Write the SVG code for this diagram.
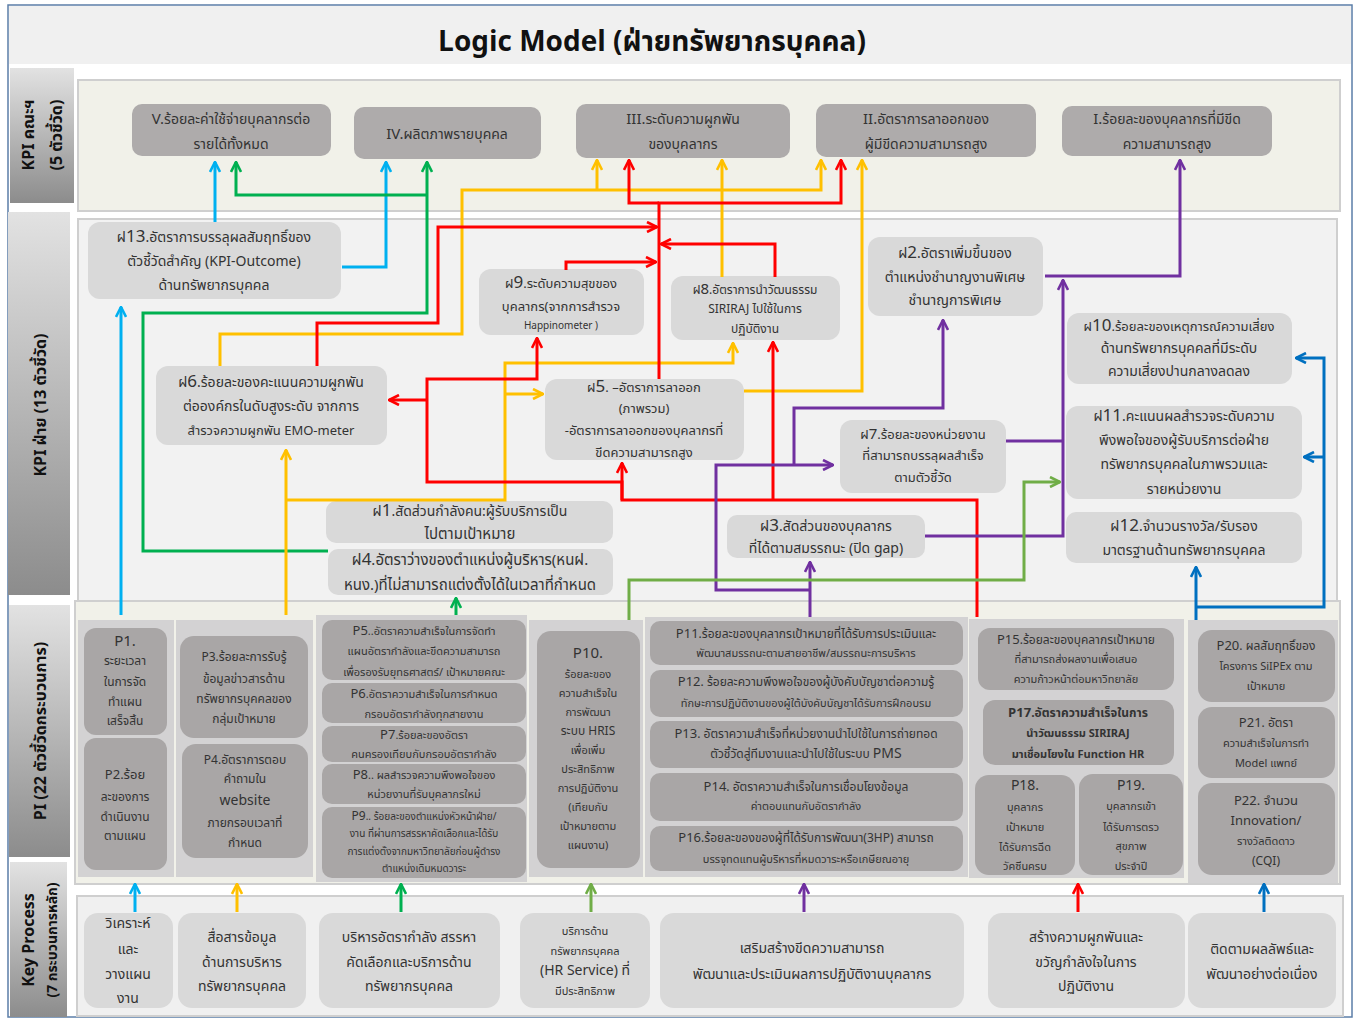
<svg xmlns="http://www.w3.org/2000/svg" width="1359" height="1023" viewBox="0 0 1359 1023">
<defs>
<linearGradient id="lbl" x1="0" y1="0" x2="0" y2="1"><stop offset="0" stop-color="#e2e2e2"/><stop offset="1" stop-color="#8c8c8c"/></linearGradient>
<marker id="aC" viewBox="0 0 12 12" refX="11" refY="6" markerWidth="12" markerHeight="12" markerUnits="userSpaceOnUse" orient="auto"><path d="M1,1 L11,6 L1,11" fill="none" stroke="#00b0f0" stroke-width="2.6"/></marker>
<marker id="aG" viewBox="0 0 12 12" refX="11" refY="6" markerWidth="12" markerHeight="12" markerUnits="userSpaceOnUse" orient="auto"><path d="M1,1 L11,6 L1,11" fill="none" stroke="#00b050" stroke-width="2.6"/></marker>
<marker id="aY" viewBox="0 0 12 12" refX="11" refY="6" markerWidth="12" markerHeight="12" markerUnits="userSpaceOnUse" orient="auto"><path d="M1,1 L11,6 L1,11" fill="none" stroke="#ffc000" stroke-width="2.6"/></marker>
<marker id="aR" viewBox="0 0 12 12" refX="11" refY="6" markerWidth="12" markerHeight="12" markerUnits="userSpaceOnUse" orient="auto"><path d="M1,1 L11,6 L1,11" fill="none" stroke="#ff0000" stroke-width="2.6"/></marker>
<marker id="aP" viewBox="0 0 12 12" refX="11" refY="6" markerWidth="12" markerHeight="12" markerUnits="userSpaceOnUse" orient="auto"><path d="M1,1 L11,6 L1,11" fill="none" stroke="#7030a0" stroke-width="2.6"/></marker>
<marker id="aL" viewBox="0 0 12 12" refX="11" refY="6" markerWidth="12" markerHeight="12" markerUnits="userSpaceOnUse" orient="auto"><path d="M1,1 L11,6 L1,11" fill="none" stroke="#70ad47" stroke-width="2.6"/></marker>
<marker id="aB" viewBox="0 0 12 12" refX="11" refY="6" markerWidth="12" markerHeight="12" markerUnits="userSpaceOnUse" orient="auto"><path d="M1,1 L11,6 L1,11" fill="none" stroke="#0070c0" stroke-width="2.6"/></marker>
</defs>
<style>
text{font-family:"Noto Sans Thai","Noto Sans","DejaVu Sans",sans-serif;fill:#333;text-anchor:middle}
.n1{fill:#aeabab}
.n2{fill:#d9d9d9}
.np{fill:#a9a6a6}
.col{fill:#d3d2d3}
.pan{stroke:#cfcfcf;stroke-width:2}
.lbl{fill:url(#lbl)}
.lt{font-weight:bold;fill:#111;font-size:16px}
.s15{font-size:15px}.s14{font-size:14px}.s13{font-size:13px}.s12{font-size:12px}.s11{font-size:11px}.s10{font-size:10px}
.b{font-weight:bold}
.num{font-size:17px}
.c path{fill:none;stroke-width:3}
.cC{stroke:#00b0f0}.cG{stroke:#00b050}.cY{stroke:#ffc000}.cR{stroke:#ff0000}.cP{stroke:#7030a0}.cL{stroke:#70ad47}.cB{stroke:#0070c0}
</style>
<rect x="0" y="0" width="1359" height="1023" fill="#ffffff"/>
<rect x="8" y="5" width="1344" height="1012" fill="#ffffff" stroke="#5b7ea8" stroke-width="1.5"/>
<rect x="9" y="6" width="1342" height="58" fill="#f0f0f0"/>
<text x="652" y="51" style="font-size:28px;font-weight:bold;fill:#111">Logic Model  (ฝ่ายทรัพยากรบุคคล)</text>

<g id="labels">
<rect class="lbl" x="10" y="68" width="64" height="135"/>
<text class="lt" transform="translate(34,135) rotate(-90)">KPI คณะฯ</text>
<text class="lt" transform="translate(62,135) rotate(-90)">(5 ตัวชี้วัด)</text>
<rect class="lbl" x="8" y="212" width="62" height="383"/>
<text class="lt" transform="translate(46,405) rotate(-90)">KPI ฝ่าย (13 ตัวชี้วัด)</text>
<rect class="lbl" x="9" y="605" width="61" height="252"/>
<text class="lt" transform="translate(46,731) rotate(-90)">PI (22 ตัวชี้วัดกระบวนการ)</text>
<rect class="lbl" x="10" y="862" width="57" height="155"/>
<text class="lt" transform="translate(34,940) rotate(-90)">Key Process</text>
<text class="lt" transform="translate(57,940) rotate(-90)" style="font-size:14px">(7 กระบวนการหลัก)</text>
</g>

<g id="panels">
<rect class="pan" x="78" y="80" width="1262" height="131" fill="#f1f1e9"/>
<rect class="pan" x="78" y="219" width="1259" height="382" fill="#f2f2f2"/>
<rect class="pan" x="75" y="601" width="1265" height="283" fill="#f1f1e9"/>
<rect class="pan" x="77" y="896" width="1266" height="120" fill="#f0f0f0"/>
<rect class="col" x="78" y="620" width="96" height="257"/>
<rect class="col" x="176" y="620" width="137" height="257"/>
<rect class="col" x="316" y="615" width="211" height="267"/>
<rect class="col" x="529" y="620" width="114" height="257"/>
<rect class="col" x="645" y="617" width="323" height="260"/>
<rect class="col" x="969" y="619" width="215" height="259"/>
<rect class="col" x="1188" y="620" width="150" height="263"/>
</g>

<g id="kpi-V"><rect class="n1" x="132" y="104" width="199" height="52" rx="10"/><text class="s14" x="231" y="124"><tspan class="s15">V.</tspan>ร้อยละค่าใช้จ่ายบุคลากรต่อ</text><text class="s14" x="231" y="149">รายได้ทั้งหมด</text></g>
<g id="kpi-IV"><rect class="n1" x="354" y="107" width="187" height="52" rx="10"/><text class="s14" x="447" y="139"><tspan class="s15">IV.</tspan>ผลิตภาพรายบุคคล</text></g>
<g id="kpi-III"><rect class="n1" x="576" y="104" width="214" height="54" rx="10"/><text class="s14" x="683" y="124"><tspan class="s15">III.</tspan>ระดับความผูกพัน</text><text class="s14" x="683" y="149">ของบุคลากร</text></g>
<g id="kpi-II"><rect class="n1" x="816" y="104" width="220" height="53" rx="10"/><text class="s14" x="926" y="124"><tspan class="s15">II.</tspan>อัตราการลาออกของ</text><text class="s14" x="926" y="149">ผู้มีขีดความสามารถสูง</text></g>
<g id="kpi-I"><rect class="n1" x="1062" y="106" width="210" height="50" rx="10"/><text class="s14" x="1167" y="124"><tspan class="s15">I.</tspan>ร้อยละของบุคลากรที่มีขีด</text><text class="s14" x="1167" y="149">ความสามารถสูง</text></g>

<g id="f13"><rect class="n2" x="88" y="222" width="253" height="77" rx="12"/><text class="s14" x="214" y="242">ฝ<tspan class="num">13</tspan>.อัตราการบรรลุผลสัมฤทธิ์ของ</text><text class="s14" x="214" y="266">ตัวชี้วัดสำคัญ (KPI-Outcome)</text><text class="s14" x="214" y="290">ด้านทรัพยากรบุคคล</text></g>
<g id="f6"><rect class="n2" x="156" y="366" width="231" height="79" rx="12"/><text class="s14" x="271" y="387">ฝ<tspan class="num">6</tspan>.ร้อยละของคะแนนความผูกพัน</text><text class="s14" x="271" y="411">ต่อองค์กรในดับสูงระดับ จากการ</text><text class="s13" x="271" y="435">สำรวจความผูกพัน EMO-meter</text></g>
<g id="f9"><rect class="n2" x="479" y="269" width="165" height="66" rx="12"/><text class="s13" x="561" y="288">ฝ<tspan class="num">9</tspan>.ระดับความสุขของ</text><text class="s13" x="561" y="311">บุคลากร(จากการสำรวจ</text><text class="s10" x="561" y="329">Happinometer )</text></g>
<g id="f8"><rect class="n2" x="671" y="276" width="169" height="64" rx="12"/><text class="s12" x="755" y="294">ฝ<tspan class="s15">8</tspan>.อัตราการนำวัฒนธรรม</text><text class="s12" x="755" y="313">SIRIRAJ  ไปใช้ในการ</text><text class="s12" x="755" y="333">ปฏิบัติงาน</text></g>
<g id="f5"><rect class="n2" x="545" y="379" width="199" height="81" rx="12"/><text class="s13" x="644" y="392">ฝ<tspan class="num">5</tspan>. –อัตราการลาออก</text><text class="s13" x="644" y="413">(ภาพรวม)</text><text class="s13" x="644" y="435">-อัตราการลาออกของบุคลากรที่</text><text class="s13" x="644" y="457">ขีดความสามารถสูง</text></g>
<g id="f2"><rect class="n2" x="868" y="237" width="175" height="79" rx="12"/><text class="s14" x="955" y="258">ฝ<tspan class="num">2</tspan>.อัตราเพิ่มขึ้นของ</text><text class="s14" x="955" y="282">ตำแหน่งชำนาญงานพิเศษ</text><text class="s14" x="955" y="305">ชำนาญการพิเศษ</text></g>
<g id="f10"><rect class="n2" x="1067" y="313" width="225" height="71" rx="12"/><text class="s13" x="1179" y="331">ฝ<tspan class="num">10</tspan>.ร้อยละของเหตุการณ์ความเสี่ยง</text><text class="s14" x="1179" y="353">ด้านทรัพยากรบุคคลที่มีระดับ</text><text class="s14" x="1179" y="376">ความเสี่ยงปานกลางลดลง</text></g>
<g id="f11"><rect class="n2" x="1066" y="406" width="236" height="93" rx="12"/><text class="s14" x="1184" y="421">ฝ<tspan class="num">11</tspan>.คะแนนผลสำรวจระดับความ</text><text class="s14" x="1184" y="445">พึงพอใจของผู้รับบริการต่อฝ่าย</text><text class="s14" x="1184" y="469">ทรัพยากรบุคคลในภาพรวมและ</text><text class="s14" x="1184" y="494">รายหน่วยงาน</text></g>
<g id="f7"><rect class="n2" x="840" y="420" width="166" height="73" rx="12"/><text class="s13" x="923" y="439">ฝ<tspan class="s15">7</tspan>.ร้อยละของหน่วยงาน</text><text class="s13" x="923" y="460">ที่สามารถบรรลุผลสำเร็จ</text><text class="s13" x="923" y="482">ตามตัวชี้วัด</text></g>
<g id="f1"><rect class="n2" x="326" y="501" width="287" height="42" rx="10"/><text class="s14" x="470" y="516">ฝ<tspan class="num">1</tspan>.สัดส่วนกำลังคน:ผู้รับบริการเป็น</text><text class="s15" x="470" y="539">ไปตามเป้าหมาย</text></g>
<g id="f4"><rect class="n2" x="328" y="549" width="285" height="46" rx="10"/><text class="s15" x="470" y="565">ฝ<tspan class="num">4</tspan>.อัตราว่างของตำแหน่งผู้บริหาร(หนฝ.</text><text class="s15" x="470" y="590">หนง.)ที่ไม่สามารถแต่งตั้งได้ในเวลาที่กำหนด</text></g>
<g id="f3"><rect class="n2" x="727" y="515" width="198" height="43" rx="10"/><text class="s14" x="826" y="531">ฝ<tspan class="num">3</tspan>.สัดส่วนของบุคลากร</text><text class="s14" x="826" y="553">ที่ได้ตามสมรรถนะ (ปิด gap)</text></g>
<g id="f12"><rect class="n2" x="1066" y="512" width="236" height="51" rx="10"/><text class="s14" x="1184" y="531">ฝ<tspan class="num">12</tspan>.จำนวนรางวัล/รับรอง</text><text class="s14" x="1184" y="555">มาตรฐานด้านทรัพยากรบุคคล</text></g>

<g id="p1"><rect class="np" x="84" y="628" width="83" height="107" rx="12"/><text class="s15" x="125" y="646">P1.</text><text class="s12" x="125" y="665">ระยะเวลา</text><text class="s12" x="125" y="686">ในการจัด</text><text class="s12" x="125" y="706">ทำแผน</text><text class="s12" x="125" y="725">เสร็จสิ้น</text></g>
<g id="p2"><rect class="np" x="84" y="738" width="83" height="132" rx="12"/><text class="s13" x="125" y="779">P2.ร้อย</text><text class="s12" x="125" y="801">ละของการ</text><text class="s12" x="125" y="821">ดำเนินงาน</text><text class="s12" x="125" y="840">ตามแผน</text></g>
<g id="p3"><rect class="np" x="180" y="636" width="128" height="102" rx="14"/><text class="s12" x="244" y="661">P3.ร้อยละการรับรู้</text><text class="s12" x="244" y="683">ข้อมูลข่าวสารด้าน</text><text class="s12" x="244" y="703">ทรัพยากรบุคคลของ</text><text class="s12" x="244" y="723">กลุ่มเป้าหมาย</text></g>
<g id="p4"><rect class="np" x="182" y="744" width="126" height="114" rx="14"/><text class="s12" x="245" y="764">P4.อัตราการตอบ</text><text class="s12" x="245" y="783">คำถามใน</text><text class="s14" x="245" y="805">website</text><text class="s12" x="245" y="827">ภายกรอบเวลาที่</text><text class="s12" x="245" y="847">กำหนด</text></g>
<g id="p5"><rect class="np" x="322" y="620" width="204" height="60" rx="10"/><text class="s11" x="424" y="635"><tspan class="s13">P5</tspan>..อัตราความสำเร็จในการจัดทำ</text><text class="s11" x="424" y="655">แผนอัตรากำลังและขีดความสามารถ</text><text class="s11" x="424" y="676">เพื่อรองรับยุทธศาสตร์/ เป้าหมายคณะ</text></g>
<g id="p6"><rect class="np" x="322" y="683" width="204" height="40" rx="10"/><text class="s11" x="424" y="698"><tspan class="s13">P6</tspan>.อัตราความสำเร็จในการกำหนด</text><text class="s11" x="424" y="718">กรอบอัตรากำลังทุกสายงาน</text></g>
<g id="p7"><rect class="np" x="322" y="726" width="204" height="36" rx="10"/><text class="s11" x="424" y="739"><tspan class="s13">P7</tspan>.ร้อยละของอัตรา</text><text class="s11" x="424" y="758">คนครองเทียบกับกรอบอัตรากำลัง</text></g>
<g id="p8"><rect class="np" x="322" y="764" width="204" height="40" rx="10"/><text class="s11" x="424" y="779"><tspan class="s13">P8</tspan>.. ผลสำรวจความพึงพอใจของ</text><text class="s11" x="424" y="798">หน่วยงานที่รับบุคลากรใหม่</text></g>
<g id="p9"><rect class="np" x="322" y="807" width="204" height="71" rx="10"/><text class="s10" x="424" y="820"><tspan class="s12">P9</tspan>.. ร้อยละของตำแหน่งหัวหน้าฝ่าย/</text><text class="s10" x="424" y="837">งาน ที่ผ่านการสรรหาคัดเลือกและได้รับ</text><text class="s10" x="424" y="855">การแต่งตั้งจากมหาวิทยาลัยก่อนผู้ดำรง</text><text class="s10" x="424" y="872">ตำแหน่งเดิมหมดวาระ</text></g>
<g id="p10"><rect class="np" x="537" y="631" width="103" height="237" rx="14"/><text class="s15" x="588" y="658">P10.</text><text class="s11" x="588" y="678">ร้อยละของ</text><text class="s11" x="588" y="697">ความสำเร็จใน</text><text class="s11" x="588" y="716">การพัฒนา</text><text class="s12" x="588" y="735">ระบบ HRIS</text><text class="s11" x="588" y="754">เพื่อเพิ่ม</text><text class="s11" x="588" y="773">ประสิทธิภาพ</text><text class="s11" x="588" y="792">การปฏิบัติงาน</text><text class="s11" x="588" y="811">(เทียบกับ</text><text class="s11" x="588" y="830">เป้าหมายตาม</text><text class="s11" x="588" y="849">แผนงาน)</text></g>
<g id="p11"><rect class="np" x="650" y="621" width="313" height="44" rx="10"/><text class="s12" x="806" y="638"><tspan class="s13">P11</tspan>.ร้อยละของบุคลากรเป้าหมายที่ได้รับการประเมินและ</text><text class="s11" x="806" y="657">พัฒนาสมรรถนะตามสายอาชีพ/สมรรถนะการบริหาร</text></g>
<g id="p12"><rect class="np" x="650" y="670" width="313" height="47" rx="10"/><text class="s12" x="806" y="686"><tspan class="s13">P12</tspan>. ร้อยละความพึงพอใจของผู้บังคับบัญชาต่อความรู้</text><text class="s11" x="806" y="707">ทักษะการปฏิบัติงานของผู้ใต้บังคับบัญชาได้รับการฝึกอบรม</text></g>
<g id="p13"><rect class="np" x="650" y="721" width="313" height="47" rx="10"/><text class="s12" x="806" y="738"><tspan class="s13">P13</tspan>. อัตราความสำเร็จที่หน่วยงานนำไปใช้ในการถ่ายทอด</text><text class="s12" x="806" y="758">ตัวชี้วัดสู่ทีมงานและนำไปใช้ในระบบ <tspan class="s14">PMS</tspan></text></g>
<g id="p14"><rect class="np" x="650" y="773" width="313" height="48" rx="10"/><text class="s12" x="806" y="791"><tspan class="s13">P14</tspan>. อัตราความสำเร็จในการเชื่อมโยงข้อมูล</text><text class="s11" x="806" y="810">ค่าตอบแทนกับอัตรากำลัง</text></g>
<g id="p16"><rect class="np" x="650" y="826" width="313" height="45" rx="10"/><text class="s12" x="806" y="842"><tspan class="s13">P16</tspan>.ร้อยละของของผู้ที่ได้รับการพัฒนา(3HP) สามารถ</text><text class="s11" x="806" y="863">บรรจุทดแทนผู้บริหารที่หมดวาระหรือเกษียณอายุ</text></g>
<g id="p15"><rect class="np" x="978" y="628" width="196" height="62" rx="12"/><text class="s12" x="1076" y="644"><tspan class="s13">P15</tspan>.ร้อยละของบุคลากรเป้าหมาย</text><text class="s11" x="1076" y="663">ที่สามารถส่งผลงานเพื่อเสนอ</text><text class="s11" x="1076" y="683">ความก้าวหน้าต่อมหาวิทยาลัย</text></g>
<g id="p17"><rect class="np" x="983" y="700" width="191" height="65" rx="12"/><text class="s12 b" x="1078" y="717"><tspan class="s13">P17</tspan>.อัตราความสำเร็จในการ</text><text class="s11 b" x="1078" y="737">นำวัฒนธรรม SIRIRAJ</text><text class="s11 b" x="1078" y="758">มาเชื่อมโยงใน Function HR</text></g>
<g id="p18"><rect class="np" x="975" y="775" width="100" height="100" rx="14"/><text class="s14" x="1025" y="790">P18.</text><text class="s11" x="1025" y="811">บุคลากร</text><text class="s11" x="1025" y="831">เป้าหมาย</text><text class="s11" x="1025" y="851">ได้รับการฉีด</text><text class="s11" x="1025" y="870">วัคซีนครบ</text></g>
<g id="p19"><rect class="np" x="1079" y="774" width="104" height="101" rx="14"/><text class="s14" x="1131" y="790">P19.</text><text class="s11" x="1131" y="810">บุคลากรเข้า</text><text class="s11" x="1131" y="831">ได้รับการตรว</text><text class="s11" x="1131" y="850">สุขภาพ</text><text class="s11" x="1131" y="870">ประจำปี</text></g>
<g id="p20"><rect class="np" x="1198" y="630" width="137" height="72" rx="14"/><text class="s12" x="1266" y="650"><tspan class="s13">P20</tspan>. ผลสัมฤทธิ์ของ</text><text class="s11" x="1266" y="670">โครงการ SiIPEx ตาม</text><text class="s11" x="1266" y="690">เป้าหมาย</text></g>
<g id="p21"><rect class="np" x="1198" y="707" width="137" height="71" rx="14"/><text class="s12" x="1266" y="727"><tspan class="s13">P21</tspan>. อัตรา</text><text class="s11" x="1266" y="747">ความสำเร็จในการทำ</text><text class="s11" x="1266" y="767">Model แพทย์</text></g>
<g id="p22"><rect class="np" x="1198" y="783" width="137" height="92" rx="14"/><text class="s13" x="1266" y="805">P22. จำนวน</text><text class="s13" x="1266" y="825">Innovation/</text><text class="s11" x="1266" y="845">รางวัลติดดาว</text><text class="s12" x="1266" y="865">(CQI)</text></g>

<g id="kp1"><rect class="n2" x="84" y="913" width="89" height="95" rx="14"/><text class="s14" x="128" y="928">วิเคราะห์</text><text class="s14" x="128" y="954">และ</text><text class="s14" x="128" y="979">วางแผน</text><text class="s14" x="128" y="1003">งาน</text></g>
<g id="kp2"><rect class="n2" x="178" y="913" width="128" height="95" rx="14"/><text class="s14" x="242" y="942">สื่อสารข้อมูล</text><text class="s14" x="242" y="967">ด้านการบริหาร</text><text class="s14" x="242" y="991">ทรัพยากรบุคคล</text></g>
<g id="kp3"><rect class="n2" x="319" y="913" width="181" height="95" rx="14"/><text class="s14" x="409" y="942">บริหารอัตรากำลัง สรรหา</text><text class="s14" x="409" y="967">คัดเลือกและบริการด้าน</text><text class="s14" x="409" y="991">ทรัพยากรบุคคล</text></g>
<g id="kp4"><rect class="n2" x="520" y="913" width="130" height="95" rx="14"/><text class="s11" x="585" y="935">บริการด้าน</text><text class="s11" x="585" y="955">ทรัพยากรบุคคล</text><text class="s14" x="585" y="975">(HR Service) ที่</text><text class="s11" x="585" y="995">มีประสิทธิภาพ</text></g>
<g id="kp5"><rect class="n2" x="660" y="913" width="304" height="95" rx="14"/><text class="s14" x="812" y="953">เสริมสร้างขีดความสามารถ</text><text class="s14" x="812" y="979">พัฒนาและประเมินผลการปฏิบัติงานบุคลากร</text></g>
<g id="kp6"><rect class="n2" x="988" y="913" width="197" height="95" rx="14"/><text class="s14" x="1086" y="942">สร้างความผูกพันและ</text><text class="s14" x="1086" y="967">ขวัญกำลังใจในการ</text><text class="s14" x="1086" y="991">ปฏิบัติงาน</text></g>
<g id="kp7"><rect class="n2" x="1188" y="913" width="148" height="95" rx="14"/><text class="s14" x="1262" y="954">ติดตามผลลัพธ์และ</text><text class="s14" x="1262" y="979">พัฒนาอย่างต่อเนื่อง</text></g>

<g id="connectors" class="c">
<path class="cC" d="M121,615 V307" marker-end="url(#aC)"/>
<path class="cC" d="M342,267 H386 V162" marker-end="url(#aC)"/>
<path class="cC" d="M215,222 V162" marker-end="url(#aC)"/>
<path class="cC" d="M135,912 V884" marker-end="url(#aC)"/>
<path class="cG" d="M328,551 H143 V313 H427 V162" marker-end="url(#aG)"/>
<path class="cG" d="M427,195 H236 V162" marker-end="url(#aG)"/>
<path class="cG" d="M456,615 V598" marker-end="url(#aG)"/>
<path class="cG" d="M401,912 V884" marker-end="url(#aG)"/>
<path class="cY" d="M286,615 V450" marker-end="url(#aY)"/>
<path class="cY" d="M286,500 H505 V363 H733 V343" marker-end="url(#aY)"/>
<path class="cY" d="M505,394 H543" marker-end="url(#aY)"/>
<path class="cY" d="M220,366 V334 H462 V190 H821 V160" marker-end="url(#aY)"/>
<path class="cY" d="M597,190 V160" marker-end="url(#aY)"/>
<path class="cY" d="M722,277 V160" marker-end="url(#aY)"/>
<path class="cY" d="M744,391 H862 V160" marker-end="url(#aY)"/>
<path class="cY" d="M237,912 V884" marker-end="url(#aY)"/>
<path class="cR" d="M659,379 V203 H841 V160" marker-end="url(#aR)"/>
<path class="cR" d="M659,203 H629 V160" marker-end="url(#aR)"/>
<path class="cR" d="M317,366 V323 H438 V227 H657" marker-end="url(#aR)"/>
<path class="cR" d="M566,270 V262 H656" marker-end="url(#aR)"/>
<path class="cR" d="M775,277 V244 H661" marker-end="url(#aR)"/>
<path class="cR" d="M977,617 V500 H622 V463" marker-end="url(#aR)"/>
<path class="cR" d="M773,500 V342" marker-end="url(#aR)"/>
<path class="cR" d="M622,500 V482 H427 V379 H537 V338" marker-end="url(#aR)"/>
<path class="cR" d="M427,400 H389" marker-end="url(#aR)"/>
<path class="cR" d="M1078,912 V884" marker-end="url(#aR)"/>
<path class="cP" d="M1045,276 H1180 V160" marker-end="url(#aP)"/>
<path class="cP" d="M925,536 H1063 V280" marker-end="url(#aP)"/>
<path class="cP" d="M1006,441 H1063"/>
<path class="cP" d="M810,617 V562" marker-end="url(#aP)"/>
<path class="cP" d="M810,590 H716 V465 H833" marker-end="url(#aP)"/>
<path class="cP" d="M794,465 V408 H943 V320" marker-end="url(#aP)"/>
<path class="cP" d="M804,912 V884" marker-end="url(#aP)"/>
<path class="cL" d="M629,620 V580 H1024 V482 H1060" marker-end="url(#aL)"/>
<path class="cL" d="M591,912 V884" marker-end="url(#aL)"/>
<path class="cB" d="M1196,620 V567" marker-end="url(#aB)"/>
<path class="cB" d="M1196,607 H1324 V358 H1296" marker-end="url(#aB)"/>
<path class="cB" d="M1324,457 H1304" marker-end="url(#aB)"/>
<path class="cB" d="M1264,912 V884" marker-end="url(#aB)"/>
</g>
</svg>
